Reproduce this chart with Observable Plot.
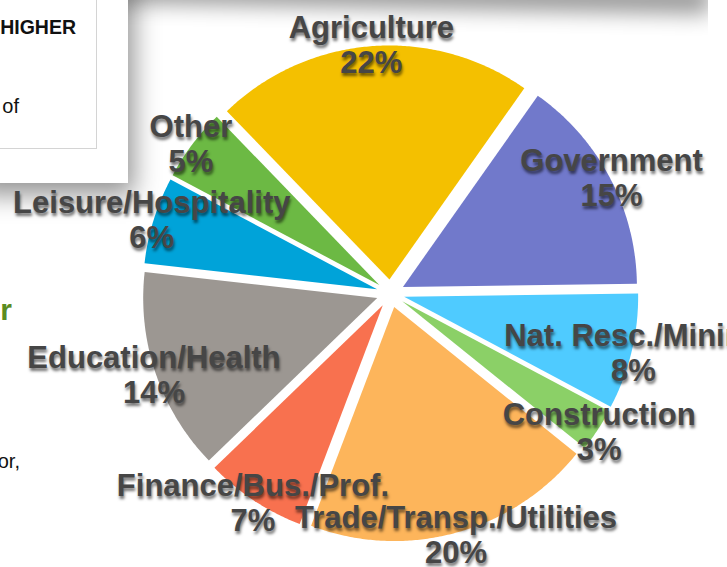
<!DOCTYPE html>
<html>
<head>
<meta charset="utf-8">
<script src="https://cdn.jsdelivr.net/npm/d3@7"></script>
<script src="https://cdn.jsdelivr.net/npm/@observablehq/plot@0.6"></script>
<style>
  html, body { margin: 0; padding: 0; background: #fff; overflow: hidden; }
  #wrap { position: relative; width: 727px; height: 567px; overflow: hidden;
          font-family: "Liberation Sans", Arial, Helvetica, sans-serif; background: #fff; }
  .topshadow { position: absolute; left: 115px; top: -26px; width: 595px; height: 28px; background: #000;
               opacity: 0.42; filter: blur(11px); transform: rotate(1.1deg); transform-origin: left bottom; }
  .rightcover { position: absolute; left: 708px; top: 0; width: 30px; height: 50px; background: #fff; }
  .card { position: absolute; left: -30px; top: -30px; width: 158px; height: 213px; background: #fff;
          box-shadow: 6px 12px 24px rgba(0,0,0,0.42); }
  .inner { position: absolute; left: -30px; top: -30px; width: 125px; height: 177px; background: #fff;
           border: 1px solid #d4d4d4; }
  .slide { position: absolute; white-space: nowrap; color: #111; }
  #chart { position: absolute; left: 0; top: 0; }
  #chart svg text { text-shadow: 1px 3px 3px rgba(0,0,0,0.55); }
</style>
</head>
<body>
<div id="wrap">
  <div class="topshadow"></div>
  <div class="rightcover"></div>
  <div class="card"></div>
  <div class="inner"></div>
  <div class="slide" style="right:651px; top:16px; font-size:19.5px; font-weight:bold;">HIGHER</div>
  <div class="slide" style="right:708px; top:95px; font-size:20px;">of</div>
  <div class="slide" style="right:715px; top:293px; font-size:30px; font-weight:bold; color:#5a8c22;">r</div>
  <div class="slide" style="right:707px; top:450px; font-size:20px;">or,</div>
  <div id="chart"></div>
</div>
<script>
// ---- data ----
const sectors = ["Agriculture", "Government", "Nat. Resc./Mining", "Construction",
                 "Trade/Transp./Utilities", "Finance/Bus./Prof.", "Education/Health",
                 "Leisure/Hospitality", "Other"];
const shares = [22, 15, 8, 3, 20, 7, 14, 6, 5];
const sectorColors = ["#f4c000", "#7179cb", "#4fcbff", "#8bd067", "#fdb55b",
                      "#f8714f", "#9c9792", "#00a3d9", "#6cb944"];

// ---- layout config ----
const startDeg = -44;      // first slice starts here, clockwise from 12 o'clock
const explode = 0.06;      // radial offset of each slice (unit radius)
const labelRadius = 1.068; // labels sit on the outer rim
const cx = 390, cy = 293, r = 234;

const rad = d => d * Math.PI / 180;
let acc = startDeg;
const arcs = shares.map((v, i) => {
  const a0 = acc, a1 = acc + v * 3.6;
  acc = a1;
  return {sector: sectors[i], share: v, a0, a1, mid: (a0 + a1) / 2};
});

const slicePoints = arcs.flatMap(s => {
  const ox = explode * Math.sin(rad(s.mid)), oy = explode * Math.cos(rad(s.mid));
  const pts = [{sector: s.sector, x: ox, y: oy}];
  const n = Math.max(2, Math.ceil((s.a1 - s.a0) / 0.5));
  for (let k = 0; k <= n; k++) {
    const a = rad(s.a0 + (s.a1 - s.a0) * k / n);
    pts.push({sector: s.sector, x: ox + Math.sin(a), y: oy + Math.cos(a)});
  }
  pts.push({sector: s.sector, x: ox, y: oy});
  return pts;
});

const labels = arcs.map(s => ({
  sector: s.sector,
  text: `${s.sector}\n${s.share}%`,
  x: labelRadius * Math.sin(rad(s.mid)),
  y: labelRadius * Math.cos(rad(s.mid))
}));

const chart = Plot.plot({
  width: 727,
  height: 567,
  margin: 0,
  x: {domain: [-1, 1], range: [cx - r, cx + r], axis: null},
  y: {domain: [-1, 1], range: [cy + r, cy - r], axis: null},
  color: {domain: sectors, range: sectorColors},
  style: {background: "transparent", overflow: "visible"},
  marks: [
    Plot.line(slicePoints, {x: "x", y: "y", z: "sector", fill: "sector", stroke: "none"}),
    Plot.text(labels, {
      x: "x", y: "y", text: "text",
      fontSize: 31, fontWeight: "bold", lineHeight: 1.13,
      fontFamily: "Liberation Sans, Arial, Helvetica, sans-serif",
      fill: "#464646"
    })
  ]
});
document.getElementById("chart").appendChild(chart);
</script>
</body>
</html>
